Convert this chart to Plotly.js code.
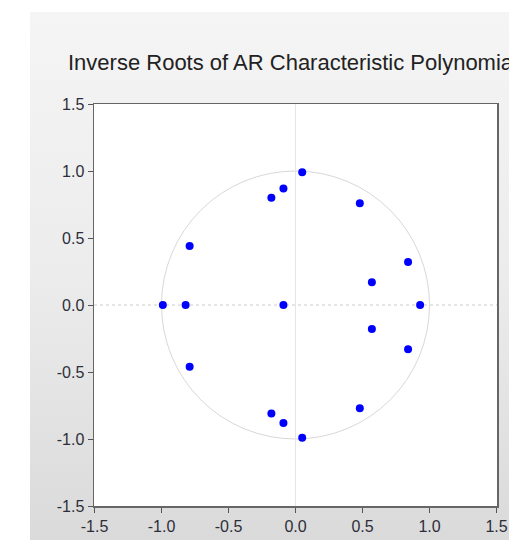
<!DOCTYPE html>
<html>
<head>
<meta charset="utf-8">
<script src="https://cdn.plot.ly/plotly-3.0.1.min.js"></script>
<style>
html,body{margin:0;padding:0;background:#ffffff;width:509px;height:540px;overflow:hidden;}
#panel{position:absolute;left:30px;top:12px;width:479px;height:528px;
background:linear-gradient(to bottom,#f5f5f5 0%,#ececec 50%,#dadada 100%);}
#chart{position:absolute;left:0;top:0;width:509px;height:540px;}
</style>
</head>
<body>
<div id="panel"></div>
<div id="chart"></div>
<script>
// Inverse roots (real part, imaginary part)
const rootsRe = [0.05, 0.05, -0.09, -0.09, -0.18, -0.18, -0.79, -0.79, 0.48, 0.48, 0.84, 0.84, 0.57, 0.57, -0.99, -0.82, -0.09, 0.93];
const rootsIm = [0.99, -0.99, 0.87, -0.88, 0.80, -0.81, 0.44, -0.46, 0.76, -0.77, 0.32, -0.33, 0.17, -0.18, 0.0, 0.0, 0.0, 0.0];
const tickVals = [-1.5, -1.0, -0.5, 0.0, 0.5, 1.0, 1.5];
const tickText = ["-1.5", "-1.0", "-0.5", "0.0", "0.5", "1.0", "1.5"];
const titleText = "Inverse Roots of AR Characteristic Polynomial";

const traces = [{
  x: rootsRe, y: rootsIm, type: 'scatter', mode: 'markers',
  marker: {color: '#0000ff', size: 8},
  hoverinfo: 'x+y', showlegend: false
}];

const axisCommon = {
  range: [-1.5, 1.5], tickvals: tickVals, ticktext: tickText,
  ticks: 'outside', ticklen: 5, tickcolor: '#555', tickwidth: 1,
  showline: true, linecolor: '#666', linewidth: 1.5, mirror: true,
  showgrid: false, fixedrange: true,
  tickfont: {family: 'Liberation Sans, Arial, sans-serif', size: 16, color: '#2e2e3a'}
};

const layout = {
  width: 509, height: 540,
  margin: {l: 94, r: 12, t: 104, b: 34},
  paper_bgcolor: 'rgba(0,0,0,0)', plot_bgcolor: '#ffffff',
  title: {text: titleText, x: 68/509, xref: 'container', xanchor: 'left', y: 1 - 62/540, yref: 'container', yanchor: 'middle',
    font: {family: 'Liberation Sans, Arial, sans-serif', size: 22, color: '#222'}},
  xaxis: Object.assign({}, axisCommon, {zeroline: true, zerolinecolor: '#e6e6e6', zerolinewidth: 1}),
  yaxis: Object.assign({}, axisCommon, {zeroline: false, scaleanchor: 'x', scaleratio: 1}),
  shapes: [
    {type: 'line', xref: 'paper', x0: 0, x1: 1, yref: 'y', y0: 0, y1: 0, line: {color: '#cccccc', width: 1, dash: 'dot'}, layer: 'below'},
    {type: 'circle', xref: 'x', yref: 'y', x0: -1, x1: 1, y0: -1, y1: 1, line: {color: '#d8d8d8', width: 1}, layer: 'below'}
  ]
};

Plotly.newPlot('chart', traces, layout, {displayModeBar: false, staticPlot: true});
</script>
</body>
</html>
